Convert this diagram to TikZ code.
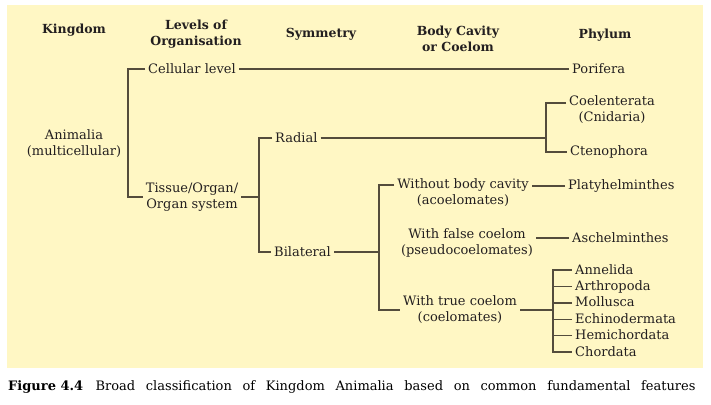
\documentclass[tikz,border=0pt]{standalone}
\usepackage{fontspec}
\setmainfont{DejaVu Serif}
\usepackage{xcolor}
\usepackage{tikz}
\usetikzlibrary{positioning}

\definecolor{paper}{HTML}{FFF7C4}
\definecolor{inkline}{HTML}{544C3C}
\definecolor{inktext}{HTML}{231F20}

\begin{document}
\begin{tikzpicture}[x=1pt, y=-1pt,
  lbl/.style={inner xsep=3pt, inner ysep=1pt, align=center,
              font=\fontsize{13}{16}\selectfont, text=inktext},
  phy/.style={lbl, text height=10pt, text depth=2pt, inner ysep=2pt},
  hd/.style={lbl, font=\fontsize{12.5}{16}\selectfont\bfseries},
  ln/.style={draw=inkline, line width=1.4pt}
]
  \useasboundingbox (0,0) rectangle (711,404);
  \fill[paper] (7,5) rectangle (703,368);

  % column heads
  \node[hd] (hking) at (74,30)  {Kingdom};
  \node[hd] (hlev)  at (196,34) {Levels of\\Organisation};
  \node[hd] (hsym)  at (321,34) {Symmetry};
  \node[hd] (hcav)  at (458,39) {Body Cavity\\or Coelom};
  \node[hd] (hphy)  at (605,35) {Phylum};

  % kingdom and levels
  \node[lbl] (anim) at (74,144) {Animalia\\(multicellular)};
  \node[lbl, anchor=west] (cell) at (145,69) {Cellular level};
  \node[lbl] (tiss) at (192,197) {Tissue/Organ/\\Organ system};

  % symmetry
  \node[lbl, anchor=west] (rad) at (272,138) {Radial};
  \node[lbl, anchor=west] (bil) at (271,252) {Bilateral};

  % body cavity
  \node[lbl] (acoel)  at (463,193) {Without body cavity\\(acoelomates)};
  \node[lbl] (pseudo) at (467,243) {With false coelom\\(pseudocoelomates)};
  \node[lbl] (coelo)  at (460,310) {With true coelom\\(coelomates)};

  % phyla
  \node[lbl, anchor=west] (pori)  at (569,69)  {Porifera};
  \node[lbl]              (coel)  at (612,110) {Coelenterata\\(Cnidaria)};
  \node[lbl, anchor=west] (cten)  at (567,152) {Ctenophora};
  \node[lbl, anchor=west] (platy) at (565,186) {Platyhelminthes};
  \node[lbl, anchor=west] (asch)  at (569,238) {Aschelminthes};
  \node[phy, anchor=west] (ann)   at (572,270) {Annelida};
  \node[phy, below=0pt of ann.south west,  anchor=north west] (arth) {Arthropoda};
  \node[phy, below=0pt of arth.south west, anchor=north west] (moll) {Mollusca};
  \node[phy, below=0pt of moll.south west, anchor=north west] (echi) {Echinodermata};
  \node[phy, below=0pt of echi.south west, anchor=north west] (hemi) {Hemichordata};
  \node[phy, below=0pt of hemi.south west, anchor=north west] (chor) {Chordata};

  % bracket spines
  \coordinate (spk) at (128,0);
  \coordinate (spl) at (259,0);
  \coordinate (sps) at (379,0);
  \coordinate (spr) at (546,0);
  \coordinate (spt) at (553,0);
  \coordinate (coelA)  at ([yshift=7pt]coel.west);
  \coordinate (acoelA) at ([yshift=8pt]acoel.west);

  % connectors
  \draw[ln] (cell.west) -- (cell.west -| spk) -- (tiss.west -| spk) -- (tiss.west);
  \draw[ln] (cell.east) -- (pori.west);
  \draw[ln] (tiss.east) -- (tiss.east -| spl);
  \draw[ln] (rad.west) -- (rad.west -| spl) -- (bil.west -| spl) -- (bil.west);
  \draw[ln] (rad.east) -- (rad.east -| spr);
  \draw[ln] (coelA) -- (coelA -| spr) -- (cten.west -| spr) -- (cten.west);
  \draw[ln] (bil.east) -- (bil.east -| sps);
  \draw[ln] (acoelA) -- (acoelA -| sps) -- (coelo.west -| sps) -- (coelo.west);
  \draw[ln] (platy.west) -- (platy.west -| acoel.east);
  \draw[ln] (asch.west) -- (asch.west -| pseudo.east);
  \draw[ln] (coelo.east) -- (coelo.east -| spt);
  \draw[ln] (ann.west) -- (ann.west -| spt) -- (chor.west -| spt) -- (chor.west);
  \draw[ln] (arth.west) -- (arth.west -| spt);
  \draw[ln] (moll.west) -- (moll.west -| spt);
  \draw[ln] (echi.west) -- (echi.west -| spt);
  \draw[ln] (hemi.west) -- (hemi.west -| spt);

  % caption
  \node[anchor=west, inner sep=0, font=\fontsize{13}{15}\selectfont\bfseries]
    (fig) at (8,387) {Figure 4.4};
  \node[inner sep=0, font=\fontsize{13}{15}\selectfont, right=12pt of fig] (cap)
    {\makebox[600pt][s]{Broad classification of Kingdom Animalia based on common fundamental features}};
\end{tikzpicture}
\end{document}
